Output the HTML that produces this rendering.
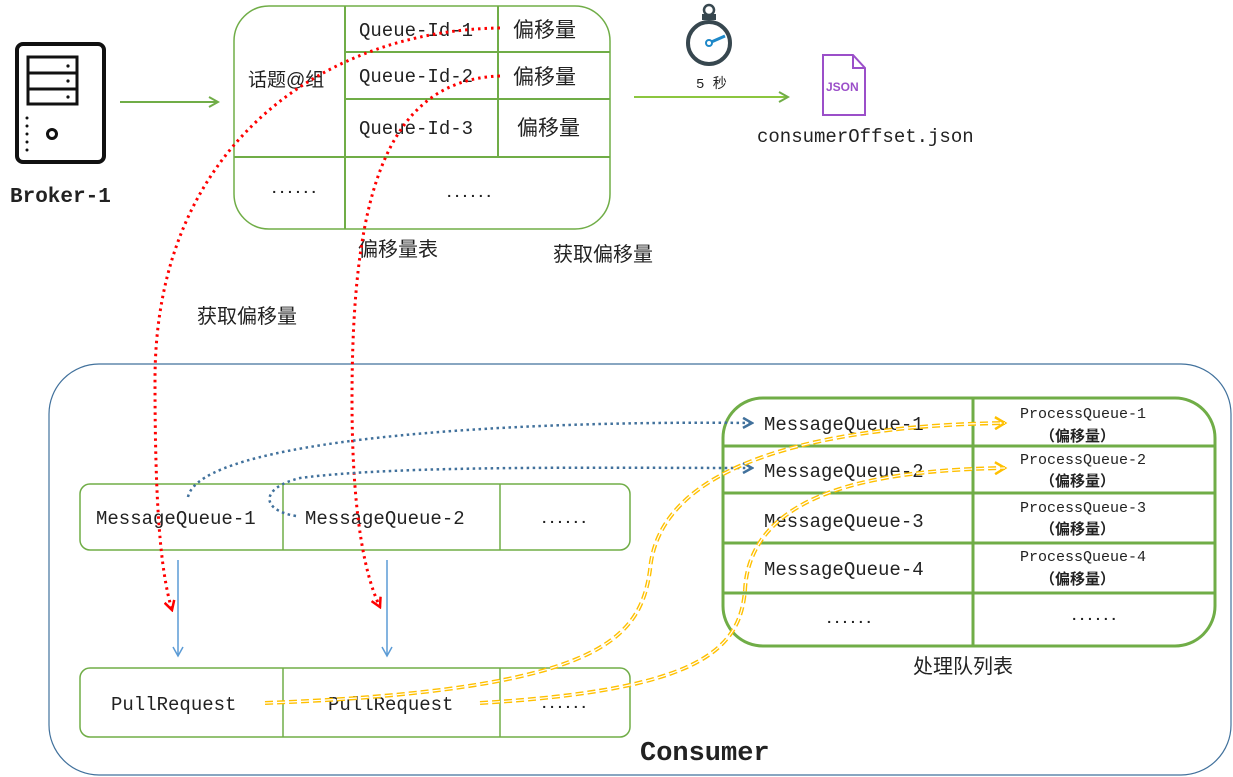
<!DOCTYPE html>
<html><head><meta charset="utf-8"><style>
body{margin:0;background:#fff;}
svg{display:block;}
text{font-family:"Liberation Mono","Noto Sans CJK SC",monospace;fill:#222;}
.cn{font-family:"Liberation Sans","Noto Sans CJK SC",sans-serif;}
.dots{font-family:"Liberation Mono",monospace;font-size:14px;font-weight:bold;letter-spacing:-0.5px;}
</style></head><body>
<svg width="1233" height="777" viewBox="0 0 1233 777" xmlns="http://www.w3.org/2000/svg">
<defs>
<marker id="ag" markerWidth="12" markerHeight="12" refX="10" refY="6" orient="auto" markerUnits="userSpaceOnUse"><path d="M1,1 L10,6 L1,11" fill="none" stroke="#70ad47" stroke-width="2"/></marker>
<marker id="ab" markerWidth="12" markerHeight="12" refX="10" refY="6" orient="auto" markerUnits="userSpaceOnUse"><path d="M1,1 L10,6 L1,11" fill="none" stroke="#41719c" stroke-width="2.5"/></marker>
<marker id="ay" markerWidth="14" markerHeight="14" refX="11" refY="7" orient="auto" markerUnits="userSpaceOnUse"><path d="M1,1 L11,7 L1,13" fill="none" stroke="#ffc000" stroke-width="2.5"/></marker>
<marker id="ar" markerWidth="12" markerHeight="12" refX="10" refY="6" orient="auto" markerUnits="userSpaceOnUse"><path d="M1,1 L10,6 L1,11" fill="none" stroke="#ff0000" stroke-width="2.5"/></marker>
<marker id="abl" markerWidth="12" markerHeight="12" refX="10" refY="6" orient="auto" markerUnits="userSpaceOnUse"><path d="M1,1 L10,6 L1,11" fill="none" stroke="#5b9bd5" stroke-width="1.5"/></marker>
</defs>

<!-- Broker icon -->
<rect x="17" y="44" width="87" height="118" rx="6" fill="none" stroke="#111" stroke-width="4"/>
<rect x="28" y="57" width="49" height="47" fill="none" stroke="#111" stroke-width="3"/>
<line x1="28" y1="73" x2="77" y2="73" stroke="#111" stroke-width="3"/>
<line x1="28" y1="89" x2="77" y2="89" stroke="#111" stroke-width="3"/>
<circle cx="68" cy="66" r="1.6" fill="#111"/><circle cx="68" cy="81" r="1.6" fill="#111"/><circle cx="68" cy="97" r="1.6" fill="#111"/>
<g fill="#111"><circle cx="27" cy="118" r="1.5"/><circle cx="27" cy="126" r="1.5"/><circle cx="27" cy="134" r="1.5"/><circle cx="27" cy="142" r="1.5"/><circle cx="27" cy="150" r="1.5"/></g>
<circle cx="52" cy="134" r="4.5" fill="none" stroke="#111" stroke-width="3"/>
<text x="10" y="202" font-size="21" font-weight="bold">Broker-1</text>
<line x1="120" y1="102" x2="218" y2="102" stroke="#70ad47" stroke-width="2" marker-end="url(#ag)"/>

<!-- top table -->
<rect x="234" y="6" width="376" height="223" rx="35" fill="none" stroke="#70ad47" stroke-width="1.5"/>
<g stroke="#70ad47" stroke-width="2">
<line x1="345" y1="6" x2="345" y2="229"/>
<line x1="234" y1="157" x2="610" y2="157"/>
<line x1="345" y1="52" x2="610" y2="52"/>
<line x1="345" y1="99" x2="610" y2="99"/>
<line x1="498" y1="6" x2="498" y2="157"/>
</g>
<g font-size="19">
<text x="359" y="36">Queue-Id-1</text>
<text x="359" y="82">Queue-Id-2</text>
<text x="359" y="134">Queue-Id-3</text>
<text class="cn" x="513" y="37" font-size="21">偏移量</text>
<text class="cn" x="513" y="84" font-size="21">偏移量</text>
<text class="cn" x="517" y="135" font-size="21">偏移量</text>
<text class="cn" x="248" y="86" font-size="19">话题@组</text>
</g>
<text class="dots" x="270" y="193">......</text>
<text class="dots" x="445" y="197">......</text>
<text class="cn" x="358" y="256" font-size="20">偏移量表</text>
<text class="cn" x="553" y="261" font-size="20">获取偏移量</text>
<text class="cn" x="197" y="323" font-size="20">获取偏移量</text>

<!-- stopwatch -->
<circle cx="709" cy="43" r="21" fill="none" stroke="#37474f" stroke-width="4"/>
<rect x="702" y="14" width="14" height="6" fill="#37474f"/>
<circle cx="709" cy="10" r="5" fill="none" stroke="#37474f" stroke-width="2.5"/>
<line x1="709" y1="43" x2="725" y2="36" stroke="#1e88c8" stroke-width="3"/>
<circle cx="709" cy="43" r="3" fill="#fff" stroke="#1e88c8" stroke-width="2"/>
<text x="696" y="88" font-size="14">5 秒</text>
<line x1="634" y1="97" x2="788" y2="97" stroke="#8cc63f" stroke-width="2" marker-end="url(#ag)"/>
<!-- json -->
<path d="M823,55 L853,55 L865,68 L865,115 L823,115 Z" fill="#fff" stroke="#9b4fc9" stroke-width="2"/>
<path d="M853,55 L853,68 L865,68" fill="none" stroke="#9b4fc9" stroke-width="2"/>
<text x="826" y="91" font-size="12" font-weight="bold" style="font-family:'Liberation Sans',sans-serif;fill:#9b4fc9">JSON</text>
<text x="757" y="142" font-size="19">consumerOffset.json</text>

<!-- consumer -->
<rect x="49" y="364" width="1182" height="411" rx="50" fill="none" stroke="#41719c" stroke-width="1.2"/>
<text x="640" y="760" font-size="27" font-weight="bold">Consumer</text>

<rect x="80" y="484" width="550" height="66" rx="10" fill="none" stroke="#70ad47" stroke-width="1.5"/>
<line x1="283" y1="484" x2="283" y2="550" stroke="#70ad47" stroke-width="1.5"/>
<line x1="500" y1="484" x2="500" y2="550" stroke="#70ad47" stroke-width="1.5"/>
<text x="96" y="524" font-size="19">MessageQueue-1</text>
<text x="305" y="524" font-size="19">MessageQueue-2</text>
<text class="dots" x="540" y="523">......</text>

<line x1="178" y1="560" x2="178" y2="656" stroke="#5b9bd5" stroke-width="1.5" marker-end="url(#abl)"/>
<line x1="387" y1="560" x2="387" y2="656" stroke="#5b9bd5" stroke-width="1.5" marker-end="url(#abl)"/>

<rect x="80" y="668" width="550" height="69" rx="10" fill="none" stroke="#70ad47" stroke-width="1.5"/>
<line x1="283" y1="668" x2="283" y2="737" stroke="#70ad47" stroke-width="1.5"/>
<line x1="500" y1="668" x2="500" y2="737" stroke="#70ad47" stroke-width="1.5"/>
<text x="111" y="710" font-size="19">PullRequest</text>
<text x="328" y="710" font-size="19">PullRequest</text>
<text class="dots" x="540" y="708">......</text>

<!-- process table -->
<rect x="723" y="398" width="492" height="248" rx="40" fill="none" stroke="#70ad47" stroke-width="3"/>
<g stroke="#70ad47" stroke-width="3">
<line x1="973" y1="398" x2="973" y2="646"/>
<line x1="723" y1="446" x2="1215" y2="446"/>
<line x1="723" y1="493" x2="1215" y2="493"/>
<line x1="723" y1="543" x2="1215" y2="543"/>
<line x1="723" y1="593" x2="1215" y2="593"/>
</g>
<g font-size="19">
<text x="764" y="430">MessageQueue-1</text>
<text x="764" y="477">MessageQueue-2</text>
<text x="764" y="527">MessageQueue-3</text>
<text x="764" y="575">MessageQueue-4</text>
</g>
<text class="dots" x="825" y="623">......</text>
<text class="dots" x="1070" y="620">......</text>
<g font-size="15">
<text x="1020" y="418">ProcessQueue-1</text>
<text x="1020" y="464">ProcessQueue-2</text>
<text x="1020" y="512">ProcessQueue-3</text>
<text x="1020" y="561">ProcessQueue-4</text>
</g>
<g font-size="15" font-weight="bold">
<text class="cn" x="1040" y="441">（偏移量）</text>
<text class="cn" x="1040" y="486">（偏移量）</text>
<text class="cn" x="1040" y="534">（偏移量）</text>
<text class="cn" x="1040" y="584">（偏移量）</text>
</g>
<text class="cn" x="913" y="673" font-size="20">处理队列表</text>

<!-- red dotted -->
<path d="M500,28 C330,30 155,140 155,380 C155,500 160,570 172,610" fill="none" stroke="#ff0000" stroke-width="3" stroke-dasharray="2.5,4" marker-end="url(#ar)"/>
<path d="M500,76 C380,80 352,210 352,400 C352,500 362,570 380,607" fill="none" stroke="#ff0000" stroke-width="3" stroke-dasharray="2.5,4" marker-end="url(#ar)"/>

<!-- blue dotted -->
<path d="M188,497 C200,440 500,420 752,423" fill="none" stroke="#41719c" stroke-width="2.5" stroke-dasharray="2.5,3.5" marker-end="url(#ab)"/>
<path d="M296,516 C260,510 260,488 300,478 C400,465 600,468 752,468" fill="none" stroke="#41719c" stroke-width="2.5" stroke-dasharray="2.5,3.5" marker-end="url(#ab)"/>

<!-- yellow double dashed -->
<g fill="none" stroke-dasharray="8,4">
<path d="M265,703 C600,690 640,640 650,570 C660,450 860,425 1005,423" stroke="#ffc000" stroke-width="4" marker-end="url(#ay)"/>
<path d="M265,703 C600,690 640,640 650,570 C660,450 860,425 1005,423" stroke="#fff" stroke-width="1.2"/>
<path d="M480,703 C700,690 740,650 745,590 C750,490 880,470 1005,468" stroke="#ffc000" stroke-width="4" marker-end="url(#ay)"/>
<path d="M480,703 C700,690 740,650 745,590 C750,490 880,470 1005,468" stroke="#fff" stroke-width="1.2"/>
</g>
</svg>
</body></html>
